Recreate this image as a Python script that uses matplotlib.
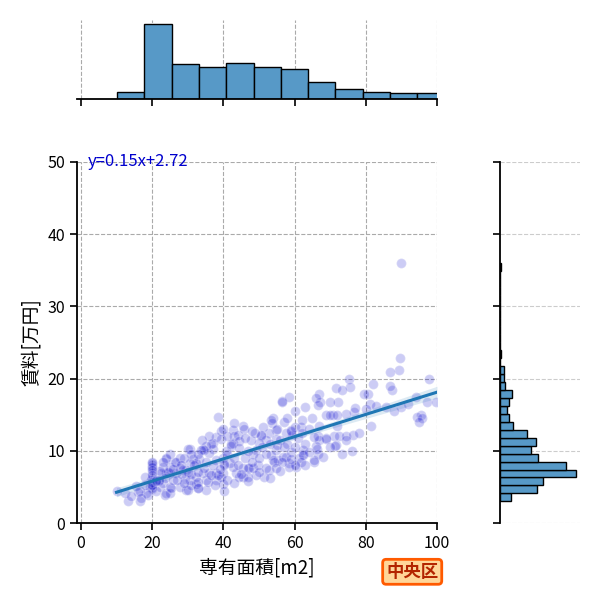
import matplotlib
matplotlib.use('Agg')
import matplotlib.pyplot as plt
import numpy as np

plt.rcParams['font.family'] = ['Noto Sans CJK JP', 'DejaVu Sans']

# points (area m2, rent 万円)
area = [89.6, 89.2, 86.7, 87.5, 86.8, 82.1, 80.7, 79.4, 81.2, 81.4, 75.4, 75.5, 71.6, 73.3,
        72.1, 70.0, 66.9, 67.1, 66.0, 66.7, 56.4, 58.5, 97.8, 97.3, 99.6, 95.4, 94.5, 95.9,
        94.9, 94.0, 89.8, 85.6, 76.8, 77.0, 74.4, 70.7, 68.8, 71.2, 72.6, 74.4, 76.3, 74.4,
        71.6, 76.1, 73.3, 68.8, 66.7, 66.9, 66.0, 66.5, 65.5, 62.3, 61.3, 62.3, 59.0, 59.3,
        57.1, 57.6, 53.9, 53.6, 54.8, 52.9, 52.0, 50.6, 50.1, 49.2, 48.3, 51.1, 54.8, 55.3,
        56.7, 58.5, 60.4, 58.5, 52.9, 51.5, 49.2, 47.3, 45.5, 45.5, 43.6, 42.7, 41.8, 39.9,
        40.2, 39.9, 40.8, 42.7, 42.2, 42.7, 42.9, 45.5, 44.1, 44.5, 38.0, 38.5, 39.4, 37.1,
        37.1, 36.1, 35.2, 34.3, 33.3, 32.4, 31.5, 30.5, 30.5, 29.6, 28.7, 27.7, 26.8, 26.8,
        25.0, 24.0, 24.0, 25.0, 23.1, 22.6, 22.2, 20.0, 20.0, 20.0, 20.0, 20.0, 20.0, 19.8,
        19.3, 21.2, 22.2, 23.1, 24.0, 25.0, 25.0, 18.4, 17.9, 16.5, 16.5, 15.6, 13.3, 12.4,
        10.0, 27.7, 29.6, 30.5, 32.8, 32.4, 35.2, 35.2, 34.3, 36.1, 38.0, 38.0, 39.9, 32.4,
        30.1, 24.0, 56.6, 53.4, 60.0, 61.8, 59.0, 45.8, 42.2, 44.5, 50.6, 47.8, 54.8, 53.4,
        53.9, 54.3, 57.6, 56.6, 62.3, 61.8, 65.5, 65.5, 66.4, 68.9, 69.9, 71.8, 71.3, 46.9,
        48.3, 49.7, 52.1, 54.8, 44.5, 46.9, 60.0, 39.4, 40.3, 38.0, 36.6, 39.4, 34.7, 33.8,
        27.7, 26.3, 24.5, 20.0, 20.0, 20.0, 17.9, 16.1, 14.2, 18.9, 17.0, 23.5, 25.4, 29.1,
        30.9, 32.9, 32.9, 35.7, 37.6, 40.3, 30.1, 30.1, 31.9, 34.7, 36.6, 38.5, 90.0, 20.0,
        20.0, 20.0, 20.0, 20.0, 21.0, 22.0, 23.5, 26.0, 28.5,
        41.0, 43.0, 44.0, 46.0, 47.0, 48.0, 49.0, 50.0, 51.0, 52.0, 53.0, 55.0, 56.0, 57.0,
        58.0, 59.0, 60.0, 61.0, 62.0, 63.0, 64.0, 65.0, 67.0, 55.0, 48.0, 46.0, 43.0, 41.0,
        40.0, 36.0, 34.0, 33.0, 31.0, 29.0, 28.0, 26.0, 25.0, 23.0, 22.0, 21.0, 27.0, 29.0,
        31.0, 33.0, 35.0, 37.0, 39.0, 41.0, 43.0, 45.0, 47.0, 50.0, 53.0, 56.0, 59.0, 63.0,
        64.0, 68.0, 70.0, 72.0, 78.0, 80.0, 83.0, 88.0, 92.0, 60.0, 63.0, 58.0, 62.0]
rent = [22.9, 21.2, 20.9, 18.4, 19.0, 19.3, 17.9, 17.9, 16.5, 13.4, 19.9, 18.9, 18.7, 18.4,
        16.8, 16.8, 17.9, 16.8, 17.3, 16.4, 16.9, 17.4, 19.9, 16.8, 16.8, 15.0, 14.7, 14.5,
        14.0, 17.5, 16.0, 16.0, 15.4, 15.9, 15.1, 14.9, 14.9, 12.0, 12.0, 12.0, 12.2, 11.5,
        10.8, 10.0, 9.5, 11.8, 12.0, 11.5, 10.6, 9.5, 8.5, 9.5, 9.0, 10.1, 12.9, 12.2,
        14.0, 12.4, 14.5, 13.8, 12.9, 12.4, 11.5, 12.0, 11.1, 10.1, 9.5, 13.3, 10.1, 8.7,
        9.2, 8.3, 7.8, 7.8, 7.4, 6.4, 6.7, 7.6, 7.6, 6.4, 6.9, 7.8, 8.3, 6.9,
        8.1, 9.0, 10.0, 11.1, 10.6, 12.9, 12.0, 13.4, 12.2, 11.4, 11.9, 14.7, 12.8, 11.1,
        10.2, 9.7, 10.6, 10.2, 8.8, 8.3, 8.8, 8.3, 10.2, 7.4, 7.4, 7.6, 8.5, 6.9,
        6.9, 6.9, 8.8, 7.8, 7.8, 6.9, 7.2, 8.1, 7.6, 6.9, 6.2, 5.4, 4.7, 5.9,
        5.0, 4.4, 5.0, 5.5, 4.1, 5.0, 4.1, 4.1, 6.4, 4.4, 3.0, 5.1, 3.0, 4.1,
        4.4, 5.0, 4.6, 5.9, 4.8, 5.4, 5.9, 4.6, 6.9, 6.9, 6.9, 5.9, 5.4, 6.4,
        10.2, 9.0, 16.8, 14.3, 13.3, 13.3, 12.7, 13.0, 11.0, 10.4, 12.2, 11.5, 11.7, 9.4,
        8.7, 8.5, 9.2, 8.5, 9.4, 8.5, 8.7, 11.9, 10.3, 11.7, 14.9, 14.9, 10.6, 7.6,
        7.6, 8.0, 7.6, 7.6, 6.4, 6.4, 8.0, 6.4, 8.2, 8.7, 11.0, 11.7, 10.1, 10.1,
        9.0, 8.5, 7.1, 8.3, 7.8, 4.8, 5.3, 4.3, 3.8, 3.9, 3.4, 3.9, 4.8, 6.1,
        5.2, 5.7, 4.8, 5.7, 5.2, 4.5, 4.6, 7.1, 8.0, 7.6, 6.6, 6.6, 36.0, 8.5,
        7.3, 6.6, 5.7, 5.2, 6.0, 5.8, 6.3, 6.0, 6.8,
        9.5, 9.0, 8.0, 9.0, 10.0, 8.5, 12.5, 9.0, 10.5, 9.5, 11.0, 10.8, 11.5, 10.5,
        11.0, 9.8, 10.5, 11.8, 12.5, 11.0, 13.0, 14.5, 13.5, 13.0, 12.8, 11.8, 13.8, 12.0,
        13.0, 12.0, 11.5, 9.5, 9.5, 9.0, 8.0, 7.5, 9.5, 8.5, 6.0, 5.8, 6.0, 5.5,
        6.8, 7.0, 8.5, 8.0, 7.5, 6.0, 5.5, 6.8, 5.8, 7.0, 6.2, 7.2, 8.8, 8.0,
        9.8, 9.2, 10.5, 13.5, 12.5, 15.8, 16.2, 15.5, 16.5, 15.5, 16.0, 14.5, 14.2]

# fitted line shown in the chart
slope = 0.154
intercept = 2.72

# marginal histograms (counts)
x_bin_start = 10.2
x_bin_width = 7.66
x_counts = [10, 108, 50, 46, 51, 46, 43, 25, 15, 10, 8, 8]

y_bin_start = 3.0
y_bin_width = 1.1017
y_counts = [11, 36, 42, 75, 65, 37, 31, 35, 27, 13, 9, 7, 9, 12, 5, 4, 4, 0, 1,
            0, 0, 0, 0, 0, 0, 0, 0, 0, 0, 1]

ticks_x = [0, 20, 40, 60, 80, 100]
ticks_y = [0, 10, 20, 30, 40, 50]
district = '中央区'

area = np.array(area)
rent = np.array(rent)

fig = plt.figure(figsize=(6, 6), dpi=100)
ax = fig.add_axes([0.1283, 0.1283, 0.6, 0.6017])
ax_top = fig.add_axes([0.1283, 0.835, 0.6, 0.1317], sharex=ax)
ax_right = fig.add_axes([0.8333, 0.1283, 0.1333, 0.6017], sharey=ax)

grid_kw = dict(color='#aaaaaa', linestyle='--', linewidth=0.8)

# scatter + regression
ax.scatter(area, rent, s=50, color='mediumblue', alpha=0.2, edgecolors='white', linewidths=1.0, zorder=2)
xl = np.linspace(area.min(), 100, 100)
yl = slope * xl + intercept
res = rent - (slope * area + intercept)
s = np.sqrt(np.sum(res ** 2) / (len(area) - 2))
se = s * np.sqrt(1 / len(area) + (xl - area.mean()) ** 2 / np.sum((area - area.mean()) ** 2))
ax.fill_between(xl, yl - 1.96 * se, yl + 1.96 * se, color='#1f77b4', alpha=0.15, lw=0, zorder=3)
ax.plot(xl, yl, color='#1f77b4', lw=2.2, zorder=4)

ax.set_xlim(-1.1, 100)
ax.set_ylim(0, 50)
ax.set_xticks(ticks_x)
ax.set_yticks(ticks_y)
ax.grid(True, **grid_kw)
ax.set_axisbelow(True)
for sp in ['top', 'right']:
    ax.spines[sp].set_visible(False)
for sp in ['left', 'bottom']:
    ax.spines[sp].set_linewidth(1.3)
ax.tick_params(labelsize=11.5, length=5, width=1.2)
ax.set_xlabel('専有面積[m2]', fontsize=13.5)
ax.set_ylabel('賃料[万円]', fontsize=13.5)
ax.text(0.03, 1.0, 'y=%.2fx+%.2f' % (slope, intercept), transform=ax.transAxes,
        color='mediumblue', fontsize=12, va='center', ha='left')

# top marginal
x_edges = x_bin_start + x_bin_width * np.arange(len(x_counts))
ax_top.bar(x_edges, x_counts, width=x_bin_width, align='edge', color='#5799c7',
           edgecolor='black', linewidth=1)
ax_top.grid(True, axis='x', **grid_kw)
ax_top.set_axisbelow(True)
for sp in ['top', 'right', 'left']:
    ax_top.spines[sp].set_visible(False)
ax_top.spines['bottom'].set_linewidth(1.3)
ax_top.tick_params(axis='x', labelbottom=False, length=5, width=1.2)
ax_top.tick_params(axis='y', left=False, labelleft=False)

# right marginal
y_edges = y_bin_start + y_bin_width * np.arange(len(y_counts))
ax_right.barh(y_edges, y_counts, height=y_bin_width, align='edge', color='#5799c7',
              edgecolor='black', linewidth=1)
ax_right.grid(True, axis='y', color='#cccccc', linestyle='--', linewidth=0.8)
ax_right.set_axisbelow(True)
for sp in ['top', 'right', 'bottom']:
    ax_right.spines[sp].set_visible(False)
ax_right.spines['left'].set_linewidth(1.3)
ax_right.tick_params(axis='y', labelleft=False, length=5, width=1.2)
ax_right.tick_params(axis='x', bottom=False, labelbottom=False)

fig.text(0.687, 0.047, district, fontsize=12.5, fontweight='bold', color='#b32400',
         ha='center', va='center',
         bbox=dict(boxstyle='round,pad=0.2', facecolor='#ffd699', edgecolor='#ff5a00', linewidth=2))

fig.savefig('out.png', dpi=100)
